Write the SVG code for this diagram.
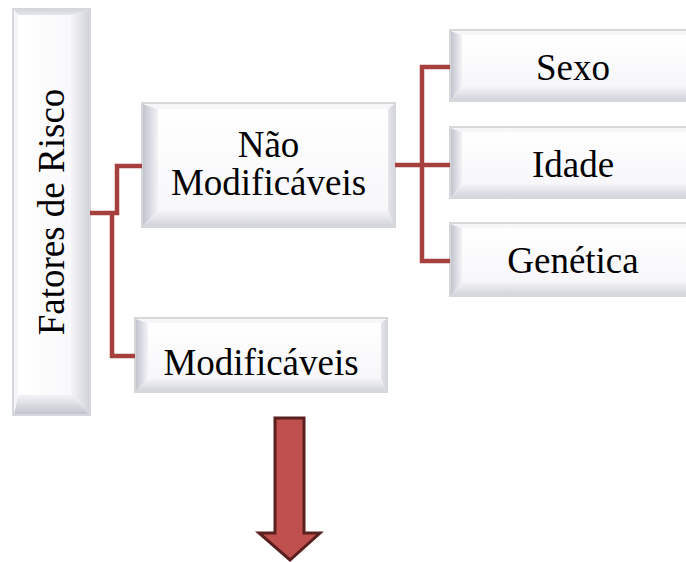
<svg xmlns="http://www.w3.org/2000/svg" width="686" height="562" viewBox="0 0 686 562">
<defs>
<linearGradient id="gL" x1="0" y1="0" x2="1" y2="0"><stop offset="0" stop-color="#c3c4ce"/><stop offset="1" stop-color="#f3f3f7"/></linearGradient>
<linearGradient id="gB" x1="0" y1="0" x2="0" y2="1"><stop offset="0" stop-color="#f4f4f7"/><stop offset="1" stop-color="#d3d4dc"/></linearGradient>
<linearGradient id="gR" x1="0" y1="0" x2="1" y2="0"><stop offset="0" stop-color="#e6e7ec"/><stop offset="1" stop-color="#d6d7de"/></linearGradient>
<linearGradient id="gF" x1="0" y1="0" x2="0" y2="1"><stop offset="0" stop-color="#ffffff"/><stop offset="1" stop-color="#f7f7fa"/></linearGradient>
<style>
.frame{fill:#fbfbfc;stroke:#d4d8db;stroke-width:2}
.face{fill:url(#gF)}
.bl{fill:url(#gL)}
.bb{fill:url(#gB)}
.br{fill:url(#gR)}
.bt{fill:#f6f6f9}
.t{font-family:"Liberation Serif","Times New Roman",serif;font-size:37px;fill:#000;text-anchor:middle}
.c{fill:none;stroke:#a5403f;stroke-width:4.5;stroke-linejoin:miter;stroke-linecap:butt}
</style>
</defs>

<g id="fatores" transform="translate(13,415) rotate(-90)">
<rect class="frame" x="0" y="0" width="406" height="77"/>
<rect class="face" x="1" y="1" width="404" height="75"/>
<polygon class="bl" points="1,1 20,5 20,58 1,76"/>
<polygon class="bb" points="1,76 20,58 400,58 405,76"/>
<polygon class="br" points="405,1 405,76 400,58 400,5"/>
<polygon class="bt" points="1,1 405,1 400,5 20,5"/>
<text class="t" x="203" y="51">Fatores de Risco</text>
</g>

<g id="nao-modificaveis">
<rect class="frame" x="142" y="103" width="253" height="124"/>
<polygon class="bl" points="143,104 158,109 158,211 143,226"/>
<polygon class="bb" points="143,226 158,211 388,211 394,226"/>
<polygon class="br" points="394,104 394,226 388,211 388,109"/>
<polygon class="bt" points="143,104 394,104 388,109 158,109"/>
<rect class="face" x="158" y="109" width="230" height="102"/>
<text class="t" x="268.5" y="157">Não</text>
<text class="t" x="268.5" y="195">Modificáveis</text>
</g>

<g id="modificaveis">
<rect class="frame" x="135" y="318" width="252" height="74"/>
<polygon class="bl" points="136,319 148,323 148,379 136,391"/>
<polygon class="bb" points="136,391 148,379 381,379 386,391"/>
<polygon class="br" points="386,319 386,391 381,379 381,323"/>
<polygon class="bt" points="136,319 386,319 381,323 148,323"/>
<rect class="face" x="148" y="323" width="233" height="56"/>
<text class="t" x="261" y="375">Modificáveis</text>
</g>

<g id="sexo">
<rect class="frame" x="450" y="30" width="246" height="71"/>
<polygon class="bl" points="451,31 462,35 462,87 451,100"/>
<polygon class="bb" points="451,100 462,87 690,87 695,100"/>
<polygon class="bt" points="451,31 695,31 690,35 462,35"/>
<rect class="face" x="462" y="35" width="228" height="52"/>
<text class="t" x="573" y="80">Sexo</text>
</g>

<g id="idade">
<rect class="frame" x="450" y="127" width="246" height="71"/>
<polygon class="bl" points="451,128 462,132 462,184 451,197"/>
<polygon class="bb" points="451,197 462,184 690,184 695,197"/>
<polygon class="bt" points="451,128 695,128 690,132 462,132"/>
<rect class="face" x="462" y="132" width="228" height="52"/>
<text class="t" x="573" y="177">Idade</text>
</g>

<g id="genetica">
<rect class="frame" x="450" y="223" width="246" height="73"/>
<polygon class="bl" points="451,224 462,228 462,282 451,295"/>
<polygon class="bb" points="451,295 462,282 690,282 695,295"/>
<polygon class="bt" points="451,224 695,224 690,228 462,228"/>
<rect class="face" x="462" y="228" width="228" height="54"/>
<text class="t" x="573" y="273">Genética</text>
</g>

<g id="connectors">
<path class="c" d="M90,213 H117 V166 H142"/>
<path class="c" d="M112,211 V356 H135"/>
<path class="c" d="M395,165 H450"/>
<path class="c" d="M450,67 H422 V261 H450"/>
<polygon points="275,418 304,418 304,533 320,533 290,560 259,533 275,533" fill="#c0504d" stroke="#5a1f1f" stroke-width="3" stroke-linejoin="miter"/>
</g>
</svg>
